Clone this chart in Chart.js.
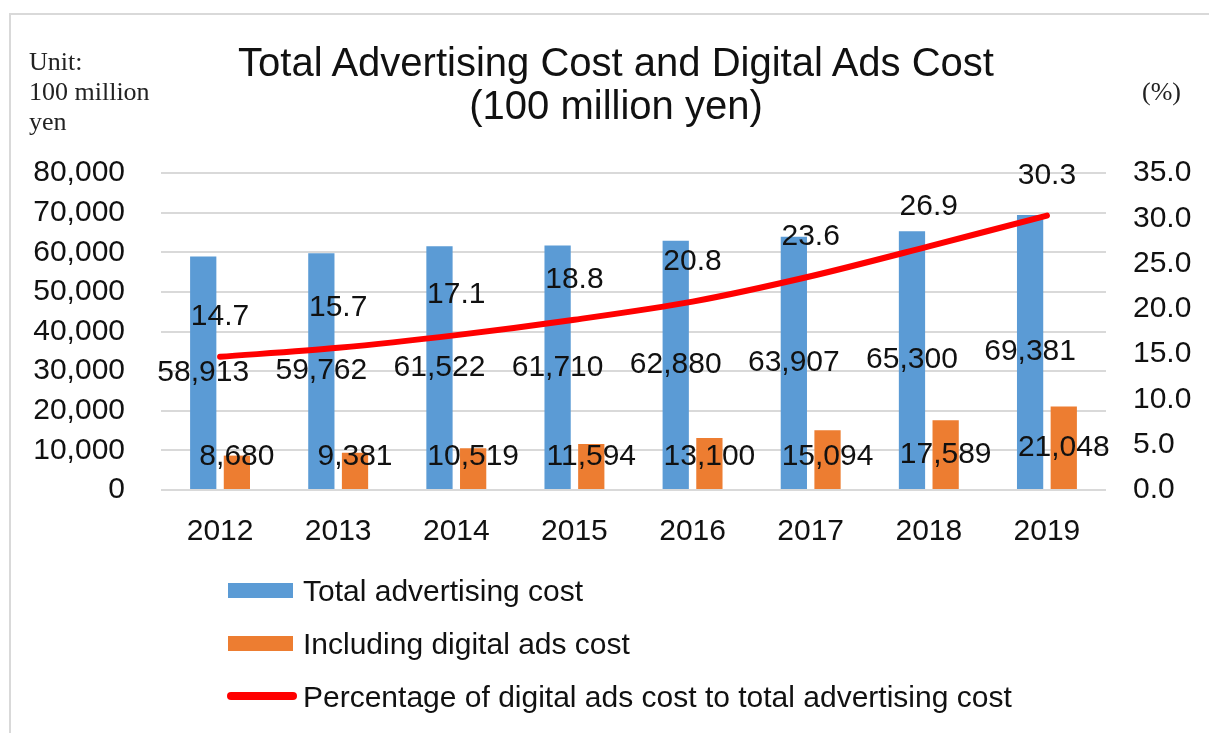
<!DOCTYPE html>
<html>
<head>
<meta charset="utf-8">
<script src="https://cdn.jsdelivr.net/npm/chart.js@4"></script>
<style>
  html, body { margin: 0; padding: 0; background: #fff; }
  #wrap { position: relative; width: 1209px; height: 733px; overflow: hidden; font-family: "Liberation Sans", Arial, sans-serif; color: #111; }
  #frame { position: absolute; left: 9px; top: 13px; width: 1300px; height: 800px; border: 2px solid #d9d9d9; }
  #chartBox { position: absolute; left: 0; top: 0; width: 1209px; height: 733px; }
  .title { position: absolute; left: 0; width: 1232px; text-align: center; font-size: 40px; line-height: 44px; }
  .serif { position: absolute; font-family: "Liberation Serif", "Times New Roman", serif; font-size: 26px; line-height: 30px; color: #222; }
  #legend { position: absolute; left: 227px; top: 564px; }
  .item { position: relative; height: 53px; font-size: 30px; line-height: 53px; padding-left: 76px; white-space: nowrap; }
  .swatch { position: absolute; left: 1px; top: 19px; width: 65px; height: 15px; }
  .swatch.line { left: 0; top: 22px; width: 70px; height: 8px; border-radius: 4px; }
</style>
</head>
<body>
<div id="wrap">
  <div id="frame"></div>
  <div id="chartBox"><canvas id="adChart"></canvas></div>
  <div class="title" style="top:40px">Total Advertising Cost and Digital Ads Cost</div>
  <div class="title" style="top:83px">(100 million yen)</div>
  <div class="serif" style="left:29px; top:47px">Unit:<br>100 million<br>yen</div>
  <div class="serif" style="left:1142px; top:77px">(%)</div>
  <div id="legend"></div>
</div>
<script>
// data (unit: 100 million yen / %)
const years = ['2012', '2013', '2014', '2015', '2016', '2017', '2018', '2019'];
const totalCost = [58913, 59762, 61522, 61710, 62880, 63907, 65300, 69381];
const digitalCost = [8680, 9381, 10519, 11594, 13100, 15094, 17589, 21048];
const digitalShare = [14.7, 15.7, 17.1, 18.8, 20.8, 23.6, 26.9, 30.3];

const seriesNames = [
    'Total advertising cost',
    'Including digital ads cost',
    'Percentage of digital ads cost to total advertising cost'
];

const BLUE = '#5b9bd5';
const ORANGE = '#ed7d31';
const RED = '#ff0000';
const FONT = '"Liberation Sans", Arial, sans-serif';

// value labels for bars (centred) and line (above the point)
const valueLabels = {
    id: 'valueLabels',
    afterDatasetsDraw(chart) {
        const ctx = chart.ctx;
        ctx.save();
        ctx.font = '30px ' + FONT;
        ctx.fillStyle = '#111';
        ctx.textAlign = 'center';
        ctx.textBaseline = 'middle';
        chart.data.datasets.forEach((ds, i) => {
            const meta = chart.getDatasetMeta(i);
            meta.data.forEach((el, j) => {
                const v = ds.data[j];
                if (ds.type === 'line') {
                    ctx.fillText(v.toFixed(1), el.x, el.y - 40);
                } else {
                    const y = Math.min((el.y + el.base) / 2, el.base - 32);
                    ctx.fillText(v.toLocaleString('en-US'), el.x, y);
                }
            });
        });
        ctx.restore();
    }
};

const ctx = document.getElementById('adChart').getContext('2d');
const myChart = new Chart(ctx, {
    data: {
        labels: years,
        datasets: [
            {
                type: 'line', label: seriesNames[2], data: digitalShare, yAxisID: 'y1',
                borderColor: RED, borderWidth: 6, pointRadius: 0, tension: 0.3,
                borderCapStyle: 'round', fill: false, order: 0
            },
            {
                type: 'bar', label: seriesNames[0], data: totalCost, yAxisID: 'y',
                backgroundColor: BLUE, categoryPercentage: 0.57, barPercentage: 0.78, order: 1
            },
            {
                type: 'bar', label: seriesNames[1], data: digitalCost, yAxisID: 'y',
                backgroundColor: ORANGE, categoryPercentage: 0.57, barPercentage: 0.78, order: 2
            }
        ]
    },
    options: {
        responsive: true,
        maintainAspectRatio: false,
        animation: false,
        layout: { padding: { top: 173, bottom: 183, left: 0, right: 0 } },
        plugins: { legend: { display: false }, tooltip: { enabled: false } },
        scales: {
            x: {
                grid: { display: false },
                border: { display: false },
                ticks: { color: '#111', font: { family: FONT, size: 30 }, padding: 16 },
                afterFit: (s) => { s.height = 60; }
            },
            y: {
                position: 'left', min: 0, max: 80000,
                grid: { color: '#d9d9d9', lineWidth: 2, drawTicks: false },
                border: { display: false },
                ticks: {
                    stepSize: 10000, padding: 36, color: '#111',
                    font: { family: FONT, size: 30 },
                    callback: (v) => v.toLocaleString('en-US')
                },
                afterFit: (s) => { s.width = 161; }
            },
            y1: {
                position: 'right', min: 0, max: 35,
                grid: { display: false, drawTicks: false },
                border: { display: false },
                ticks: {
                    stepSize: 5, padding: 27, color: '#111',
                    font: { family: FONT, size: 30 },
                    callback: (v) => v.toFixed(1)
                },
                afterFit: (s) => { s.width = 103; }
            }
        }
    },
    plugins: [valueLabels]
});

// legend: one row per series, in the order bars first, then the line
const legend = document.getElementById('legend');
[1, 2, 0].forEach((i) => {
    const ds = myChart.data.datasets[i];
    const row = document.createElement('div');
    row.className = 'item';
    const sw = document.createElement('span');
    sw.className = 'swatch' + (ds.type === 'line' ? ' line' : '');
    sw.style.background = ds.type === 'line' ? ds.borderColor : ds.backgroundColor;
    row.appendChild(sw);
    row.appendChild(document.createTextNode(ds.label));
    legend.appendChild(row);
});
</script>
</body>
</html>
